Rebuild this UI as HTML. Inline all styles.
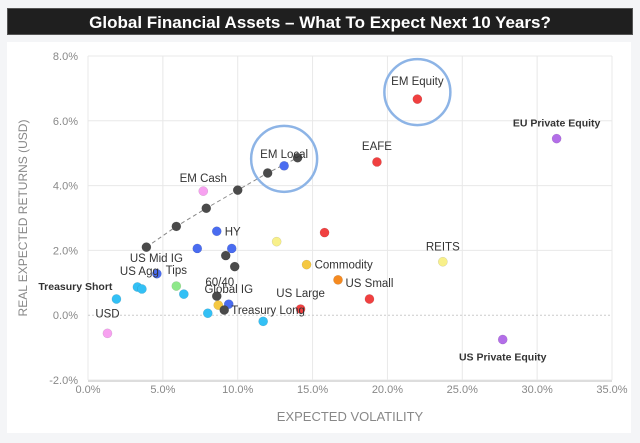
<!DOCTYPE html>
<html><head><meta charset="utf-8"><style>
body{margin:0;width:640px;height:443px;background:#f4f5f7;font-family:"Liberation Sans",sans-serif;overflow:hidden}
#title{position:absolute;left:7px;top:8px;width:626px;height:27px;background:#1f1f1f;color:#fff;font-weight:bold;font-size:17px;text-align:center;line-height:27px;border:1px solid #555;box-sizing:border-box}
#panel{position:absolute;left:7px;top:42px;width:624px;height:391px;background:#fff}
svg{position:absolute;left:0;top:0}
</style></head><body>
<div id="title">Global Financial Assets – What To Expect Next 10 Years?</div>
<div id="panel"></div>
<svg id="chart" width="640" height="443"></svg>
<script>
const names=["USD","Treasury Short","US Agg","US Agg 2","US Mid IG blue","Tips","IG cyan","US Mid IG","Curve 2","Curve 3","Curve 4","Curve 5","EM Local","Curve 7","EM Cash","HY","Blue 2","Blue 3","Dark 2","Dark 3","Yellow light","Red 2","Commodity","Orange","60/40","Global IG","Yellow 2","Treasury Long","Cyan 3","Cyan 4","US Large","US Small","REITS","EAFE","EM Equity","EU Private Equity","US Private Equity"];
const vols=[1.3,1.9,3.3,3.6,4.6,5.9,6.4,3.9,5.9,7.9,10.0,12.0,13.1,14.0,7.7,8.6,7.3,9.6,9.2,9.8,12.6,15.8,14.6,16.7,8.6,9.4,8.7,9.1,8.0,11.7,14.2,18.8,23.7,19.3,22.0,31.3,27.7];
const rets=[-0.56,0.5,0.87,0.81,1.28,0.9,0.65,2.1,2.74,3.3,3.86,4.39,4.61,4.86,3.83,2.59,2.06,2.06,1.84,1.5,2.27,2.55,1.56,1.09,0.59,0.34,0.31,0.16,0.06,-0.19,0.19,0.5,1.65,4.73,6.67,5.45,-0.75];
const colors=["#f7a1f0","#33c0f5","#33c0f5","#33c0f5","#4a6cf0","#8ee88a","#33c0f5","#4a4a4a","#4a4a4a","#4a4a4a","#4a4a4a","#4a4a4a","#4a6cf0","#4a4a4a","#f7a1f0","#4a6cf0","#4a6cf0","#4a6cf0","#4a4a4a","#4a4a4a","#f8f08a","#f04040","#f5c842","#f58a20","#4a4a4a","#4a6cf0","#f5c842","#4a4a4a","#33c0f5","#33c0f5","#f04040","#f04040","#f8f08a","#f04040","#f04040","#b36ee8","#b36ee8"];
const curveIdx=[7,8,9,10,11,13];
const labels=[["USD",0,-20,"n"],["Treasury Short",4,-13,"e"],["US Agg",2,-16,"c"],["US Mid IG",10,11,"c"],["Tips",0,-16,"c"],["EM Local",0,-12,"c"],["EM Cash",0,-13,"c"],["HY",0,0,"w"],["Commodity",0,0,"w"],["60/40",3,-14,"c"],["Global IG",0,-15,"c"],["Treasury Long",-1,0,"w"],["US Large",0,-16,"c"],["US Small",0,-16,"c"],["REITS",0,-15,"c"],["EAFE",0,-16,"c"],["EM Equity",0,-18,"c"],["EU Private Equity",0,-16,"c"],["US Private Equity",0,17,"c"]];
const xTicks=[0,5,10,15,20,25,30,35];
const yTicks=[-2,0,2,4,6,8];
const highlighted=["EM Local","EM Equity"];
const X0=88,X1=612,Y0=380,Y1=56;
const xs=v=>X0+(v-0)/35*(X1-X0);
const ys=v=>Y0-(v+2)/10*(Y0-Y1);
const svg=document.getElementById('chart');const NS="http://www.w3.org/2000/svg";
function mk(t,a){const e=document.createElementNS(NS,t);for(const k in a)e.setAttribute(k,a[k]);svg.appendChild(e);return e;}
xTicks.forEach(t=>{const l=mk('line',{x1:xs(t),x2:xs(t),y1:Y1,y2:Y0,stroke:'#e8e8e8'});

const tx=mk('text',{x:xs(t),y:Y0+13,'text-anchor':'middle','font-size':11,fill:'#888'});tx.textContent=t.toFixed(1)+'%';
});
yTicks.forEach(t=>{const l=mk('line',{x1:X0,x2:X1,y1:ys(t),y2:ys(t),stroke:t===0?'#ccc':'#e8e8e8','stroke-dasharray':t===0?'2,2':''});

const tx=mk('text',{x:78,y:ys(t)+4,'text-anchor':'end','font-size':11,fill:'#888'});tx.textContent=t.toFixed(1)+'%';
});
const ax=mk('line',{x1:X0,x2:X1,y1:Y0+1,y2:Y0+1,stroke:'#ddd','stroke-width':2});
const xt=mk('text',{x:350,y:421,'text-anchor':'middle','font-size':13,fill:'#888'});xt.textContent='EXPECTED VOLATILITY';
const yt=mk('text',{x:0,y:0,'text-anchor':'middle','font-size':12,fill:'#888',transform:'translate(27,218) rotate(-90)'});yt.textContent='REAL EXPECTED RETURNS (USD)';
const cl=mk('polyline',{points:curveIdx.map(i=>xs(vols[i])+','+ys(rets[i])).join(' '),fill:'none',stroke:'#888','stroke-dasharray':'4,3'});

highlighted.forEach(n=>{const i=names.indexOf(n);const c=mk('circle',{cx:xs(vols[i]),cy:ys(rets[i])-7,r:33,fill:'none',stroke:'#8db4e6','stroke-width':2.5});
});
vols.forEach((v,i)=>{const c=mk('circle',{cx:xs(v),cy:ys(rets[i]),r:4.6,fill:colors[i],stroke:'rgba(0,0,0,0.15)','stroke-width':0.5});
});
labels.forEach(([n,dx,dy,anc])=>{let i=names.indexOf(n);const px=xs(vols[i]),py=ys(rets[i]);
let x=px+dx,a='middle';if(anc==='e'){x=px-8+dx;a='end';}if(anc==='w'){x=px+8+dx;a='start';}
const bold=/Private|Treasury Short/.test(n);
const t=mk('text',{x:x,y:py+dy+4,'text-anchor':a,'font-size':bold?10.5:11.5,fill:'#333','font-weight':bold?'bold':'normal'});t.textContent=n;
});
</script>
</body></html>
